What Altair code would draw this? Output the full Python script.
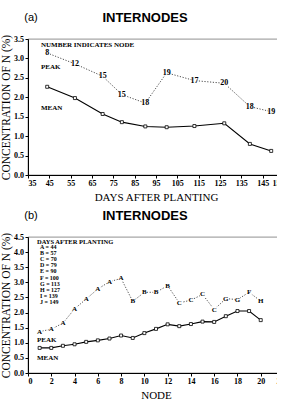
import altair as alt
import pandas as pd

# ---- Panel (a): internode N concentration vs. days after planting ----
days = [44, 57, 70, 79, 90, 100, 113, 127, 139, 149]
mean_a = [2.27, 1.98, 1.57, 1.36, 1.25, 1.23, 1.26, 1.33, 0.80, 0.62]
peak_a = [3.14, 2.86, 2.54, 2.07, 1.85, 2.63, 2.43, 2.36, 1.76, 1.63]
peak_node = ["8", "12", "15", "15", "18", "19", "17", "20", "18", "19"]

# ---- Panel (b): internode N concentration vs. node number ----
nodes = list(range(1, 21))
mean_b = [0.83, 0.83, 0.90, 0.95, 1.03, 1.08, 1.14, 1.24, 1.16, 1.32,
          1.46, 1.61, 1.55, 1.62, 1.70, 1.69, 1.88, 2.05, 2.05, 1.75]
peak_b = [1.37, 1.45, 1.65, 2.12, 2.45, 2.78, 3.02, 3.13, 2.37, 2.67,
          2.67, 2.89, 2.32, 2.41, 2.60, 2.10, 2.46, 2.43, 2.67, 2.38]
peak_code = ["A", "A", "A", "A", "A", "A", "A", "A", "B", "B",
             "B", "B", "C", "C", "C", "C", "G", "G", "F", "H"]
code_letters = ["A", "B", "C", "D", "E", "F", "G", "H", "I", "J"]
code_days = [44, 57, 70, 79, 90, 100, 113, 127, 139, 149]

W, H = 256, 136
SERIF = "Liberation Serif"
SANS = "Liberation Sans"


def note(text, x, y, size=7, align="left", font=SERIF, weight="bold", baseline="middle", **kw):
    return alt.Chart(alt.Data(values=[{}])).mark_text(
        text=text, font=font, fontSize=size, fontWeight=weight,
        align=align, baseline=baseline, color="black", **kw
    ).encode(x=alt.value(x), y=alt.value(y))


def panel(df, xfield, xscale, xticks, xtitle, ydomain, yticks, label_field,
          label_size, tag):
    def X():
        return alt.X(f"{xfield}:Q", scale=alt.Scale(domain=xscale, nice=False, zero=False),
                     axis=alt.Axis(values=xticks, title=xtitle, format="d"))

    def Y(field):
        return alt.Y(f"{field}:Q", scale=alt.Scale(domain=ydomain, nice=False),
                     axis=alt.Axis(values=yticks, title="CONCENTRATION OF N (%)", format=".1f"))

    base = alt.Chart(df)
    mean_line = base.mark_line(color="black", strokeWidth=1.1).encode(x=X(), y=Y("mean"))
    mean_pts = base.mark_point(shape="square", size=9, filled=True, fill="white",
                               stroke="black", strokeWidth=0.8, opacity=1).encode(x=X(), y=Y("mean"))
    peak_line = base.mark_line(color="black", strokeWidth=0.7,
                               strokeDash=[1.2, 1.6]).encode(x=X(), y=Y("peak"))
    peak_bg = base.mark_point(shape="square", size=30, filled=True, color="white",
                              opacity=1).encode(x=X(), y=Y("peak"))
    peak_txt = base.mark_text(font=SERIF, fontWeight="bold", fontSize=label_size,
                              color="black").encode(x=X(), y=Y("peak"), text=f"{label_field}:N")
    title_tag = note(tag, 3, -21, size=11, align="center", font=SANS, weight="normal")
    title_main = note("INTERNODES", 117, -21, size=13, align="center", font=SANS, weight="bold")
    return [peak_line, peak_bg, peak_txt, mean_line, mean_pts, title_tag, title_main]


df_a = pd.DataFrame({"day": days, "mean": mean_a, "peak": peak_a, "node": peak_node})
df_b = pd.DataFrame({"node": nodes, "mean": mean_b, "peak": peak_b, "code": peak_code})

layers_a = panel(df_a, "day", [35, 155], list(range(35, 156, 10)), "DAYS AFTER PLANTING",
                 [0, 3.5], [i * 0.5 for i in range(8)], "node", 8, "(a)")
layers_a += [
    note("NUMBER INDICATES NODE", 13, 5.7, size=7),
    note("PEAK", 13, 28, size=7),
    note("MEAN", 13, 69, size=7),
]
chart_a = alt.layer(*layers_a).properties(width=W, height=H)

legend_lines = [f"{c} = {d}" for c, d in zip(code_letters, code_days)]
layers_b = panel(df_b, "node", [0, 22], list(range(0, 23, 2)), "NODE",
                 [0, 4.5], [i * 0.5 for i in range(10)], "code", 7, "(b)")
layers_b += [
    note("DAYS AFTER PLANTING", 9, 4.5, size=6.5),
    note(legend_lines, 12, 6.5, size=6, baseline="top", lineHeight=6.2),
    note("PEAK", 9, 103, size=7),
    note("MEAN", 9, 121, size=7),
]
chart_b = alt.layer(*layers_b).properties(width=W, height=H)

# the right edge trims the overhang of the last tick labels
chart = alt.vconcat(chart_a, chart_b, spacing=6).properties(
    padding={"left": 0, "top": 11, "right": -8, "bottom": 0}
).configure_view(
    stroke="#444", strokeWidth=0.6
).configure_axis(
    grid=False, domainColor="black", domainWidth=1, tickColor="black", tickSize=3,
    labelFont=SERIF, labelFontWeight="bold", labelFontSize=8, labelColor="black",
    labelPadding=1.5, titleFont=SERIF, titleFontWeight="normal", titleColor="black"
).configure_axisY(titlePadding=2, titleFontSize=11.5).configure_axisX(titlePadding=4, titleFontSize=11)

chart.save("out.html", embed_options={"renderer": "svg", "actions": False})
